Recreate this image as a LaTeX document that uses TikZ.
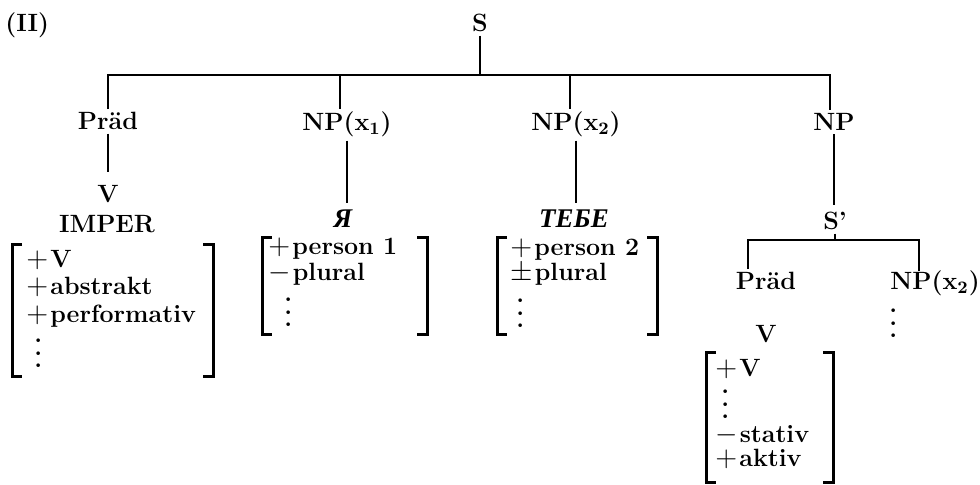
\documentclass[tikz,border=0pt]{standalone}
\usepackage{fontspec}
\newfontfamily\cyrfont{Liberation Serif}
% three stacked dots for the feature matrices
\newcommand\vdts{\vbox{\baselineskip=6.4pt\lineskiplimit=-20pt\hbox{.}\hbox{.}\hbox{.}}}
% feature signs
\newcommand\fsign[1]{\scalebox{1.2}{$#1$}\kern1pt}
\begin{document}
\begin{tikzpicture}[x=0.5pt,y=-0.5pt,
	every node/.style={font=\fontsize{12.5}{15}\selectfont\bfseries, inner sep=1.5pt},
	tag/.style={anchor=base},
	feat/.style={anchor=base west, inner sep=0pt},
	cyr/.style={anchor=base, font=\fontsize{13.5}{15}\selectfont\cyrfont\bfseries\itshape},
	edge/.style={line width=0.6pt},
	brk/.style={line width=1.5pt}]
	\useasboundingbox (0,0) rectangle (980,485);
	\node[feat] (nr) at (5,32) {(II)};
	% top level
	\node[tag] (S) at (480,32) {S};
	\node[tag] (P1) at (108,130) {Präd};
	\node[tag] (N1) at (347,131) {NP(x\textsubscript{1})};
	\node[tag] (N2) at (576,131) {NP(x\textsubscript{2})};
	\node[tag] (N3) at (834,131) {NP};
	\coordinate (top) at (480,75);
	\draw[edge] (S) -- (top);
	\draw[edge] (P1.north) |- (top) -| ([xshift=-2pt]N3.north);
	\draw[edge] ([xshift=-3.5pt]N1.north) -- ([xshift=-3.5pt]N1.north |- top);
	\draw[edge] ([xshift=-3pt]N2.north) -- ([xshift=-3pt]N2.north |- top);
	% Praed
	\node[tag] (V1) at (108,203) {V};
	\node[tag] (imp) at (107,233) {IMPER};
	\draw[edge, shorten >=5pt] (P1) -- (V1);
	\node[feat] (m1a) at (26,268) {\fsign{+}V};
	\node[feat] (m1b) at (26,295) {\fsign{+}abstrakt};
	\node[feat] (m1c) at (26,323) {\fsign{+}performativ};
	\node[feat] (m1d) at (34,368) {\vdts};
	\draw[brk] (22,245) -- (12,245) -- (12,377) -- (22,377);
	\draw[brk] (203,245) -- (213,245) -- (213,377) -- (203,377);
	% NP(x1)
	\node[cyr] (ja) at (343,228) {Я};
	\draw[edge, shorten >=2pt] (N1.south) -- (N1.south |- ja.north);
	\node[feat] (m2a) at (268,255) {\fsign{+}person 1};
	\node[feat] (m2b) at (268,281) {\fsign{-}plural};
	\node[feat] (m2c) at (284,327) {\vdts};
	\draw[brk] (272,238) -- (262,238) -- (262,335) -- (272,335);
	\draw[brk] (417,238) -- (427,238) -- (427,335) -- (417,335);
	% NP(x2)
	\node[cyr] (tebe) at (574,228) {ТЕБЕ};
	\draw[edge, shorten >=2pt] (N2.south) -- (N2.south |- tebe.north);
	\node[feat] (m3a) at (510,256) {\fsign{+}person 2};
	\node[feat] (m3b) at (510,281) {\fsign{\pm}plural};
	\node[feat] (m3c) at (516,328) {\vdts};
	\draw[brk] (507,238) -- (497,238) -- (497,335) -- (507,335);
	\draw[brk] (647,238) -- (657,238) -- (657,335) -- (647,335);
	% NP -> S'
	\node[tag] (S2) at (835,230) {S'};
	\draw[edge, shorten >=2pt] (N3.south) -- (N3.south |- S2.north);
	\node[tag] (P2) at (766,290) {Präd};
	\node[feat] (N4) at (890,290) {NP(x\textsubscript{2})};
	\coordinate (top2) at (835,240);
	\draw[edge] (S2) -- (top2);
	\draw[edge] ([xshift=-9pt]P2.north) |- (top2) -| ([xshift=-8pt]N4.north);
	\node[feat] (n4d) at (889,338) {\vdts};
	\node[tag] (V2) at (766,343) {V};
	\node[feat] (m4a) at (715,377) {\fsign{+}V};
	\node[feat] (m4b) at (721,419) {\vdts};
	\node[feat] (m4c) at (715,443) {\fsign{-}stativ};
	\node[feat] (m4d) at (715,467) {\fsign{+}aktiv};
	\draw[brk] (716,353) -- (706,353) -- (706,483) -- (716,483);
	\draw[brk] (823,353) -- (833,353) -- (833,483) -- (823,483);
\end{tikzpicture}
\end{document}
